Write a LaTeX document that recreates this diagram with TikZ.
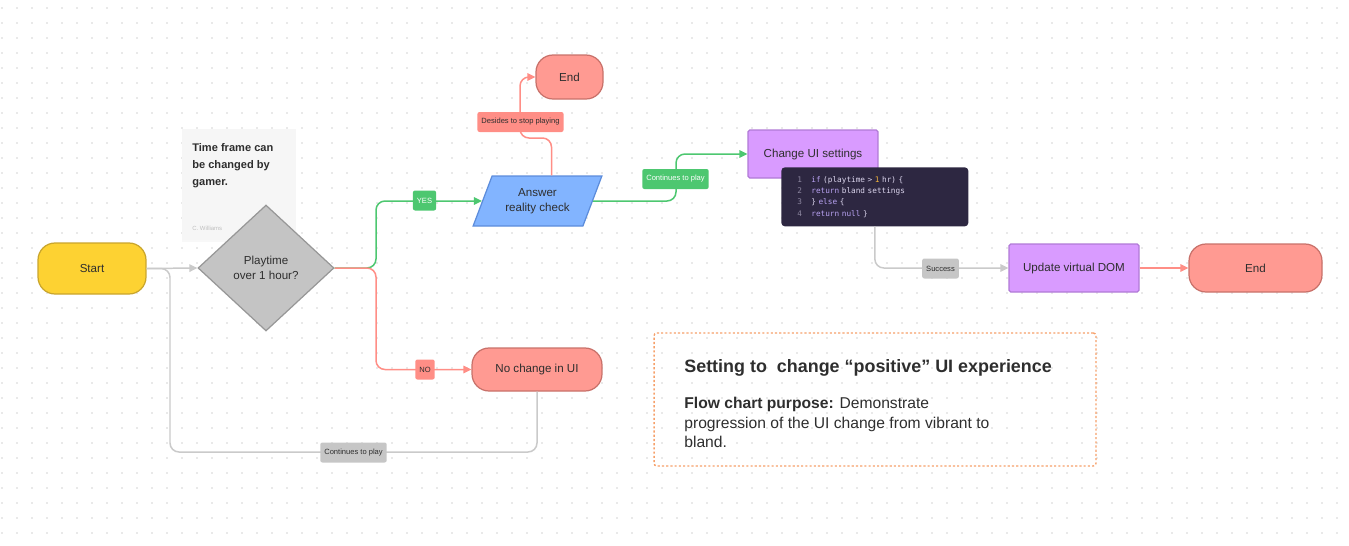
\documentclass[tikz,border=0pt]{standalone}
\usepackage{fontspec}
\setmainfont{Liberation Sans}
\newfontfamily\codefont{DejaVu Sans Mono}
\usetikzlibrary{arrows.meta,shapes.geometric,positioning,shadows}

\definecolor{ink}{HTML}{2E2E2E}
\definecolor{dotgrey}{HTML}{D2D2D2}
\definecolor{startfill}{HTML}{FDD232}
\definecolor{startdraw}{HTML}{C9A52C}
\definecolor{redfill}{HTML}{FF9A92}
\definecolor{reddraw}{HTML}{C8716A}
\definecolor{redline}{HTML}{FF8E86}
\definecolor{greenline}{HTML}{4DC770}
\definecolor{greyline}{HTML}{CACACA}
\definecolor{taggrey}{HTML}{C6C6C6}
\definecolor{purplefill}{HTML}{D99BFF}
\definecolor{purpledraw}{HTML}{B07AD6}
\definecolor{bluefill}{HTML}{82B4FF}
\definecolor{bluedraw}{HTML}{5C8CDB}
\definecolor{diafill}{HTML}{C4C4C4}
\definecolor{diadraw}{HTML}{979797}
\definecolor{codebg}{HTML}{2D2741}
\definecolor{codetxt}{HTML}{DCD6EE}
\definecolor{codekw}{HTML}{B8A2F2}
\definecolor{codenum}{HTML}{8D87A0}
\definecolor{codeone}{HTML}{F3B43B}
\definecolor{stickyfill}{HTML}{F6F6F6}
\definecolor{noteorange}{HTML}{F6A06A}

\begin{document}
\begin{tikzpicture}[x=0.02cm,y=-0.02cm,
  every node/.style={text=ink},
  txt/.style={font=\fontsize{6.6}{8.5}\selectfont, align=center},
  flowline/.style={line width=0.85pt, rounded corners=0.18cm},
  tip/.style={-{Triangle[length=0.16cm,width=0.15cm]}},
  terminal/.style={txt, rounded corners=0.34cm, line width=0.7pt},
  process/.style={txt, fill=purplefill, draw=purpledraw, line width=0.7pt, minimum width=2.6cm, minimum height=0.96cm, rounded corners=1pt},
  tag/.style={font=\fontsize{4.3}{5}\selectfont, rounded corners=1.2pt, inner xsep=2.3pt, inner ysep=0pt, minimum height=0.4cm},
  codebox/.style={fill=codebg, rounded corners=2pt, minimum width=3.74cm, minimum height=1.18cm, text width=3.1cm, inner xsep=0.32cm, align=left, font=\codefont\fontsize{4.4}{6.4}\selectfont, text=codetxt},
]
\useasboundingbox (0,0) rectangle (1349,545);
\foreach \gx in {2,17,...,1349}
  \foreach \gy in {8,23,...,545}
    \fill[dotgrey] (\gx,\gy) circle[radius=0.45pt];

\node[fill=stickyfill, minimum width=2.28cm, minimum height=2.22cm, drop shadow={opacity=0.06, shadow xshift=0pt, shadow yshift=-1pt}] (timenote) at (239,184.5) {};
\node[anchor=north west, inner sep=0, align=left, font=\bfseries\fontsize{6.3}{9.6}\selectfont] (timetext) at (192,143) {Time frame can\\be changed by\\gamer.};
\node[anchor=west, inner sep=0, font=\fontsize{3.4}{4}\selectfont, text=black!25] (timeauthor) at (192,228) {C. Williams};

\node[terminal, fill=startfill, draw=startdraw, minimum width=2.16cm, minimum height=1.02cm] (start) at (92,268.5) {Start};
\node[txt, diamond, aspect=1.08, fill=diafill, draw=diadraw, line width=0.7pt, minimum width=2.72cm, minimum height=2.52cm, inner sep=0pt] (playtime) at (266,268) {Playtime\\over 1 hour?};
\node[txt, trapezium, trapezium left angle=62, trapezium right angle=118, trapezium stretches=true, fill=bluefill, draw=bluedraw, line width=0.7pt, minimum width=2.58cm, minimum height=1.0cm, inner sep=0pt] (reality) at (537.5,201) {Answer\\reality check};
\node[terminal, fill=redfill, draw=reddraw, minimum width=1.34cm, minimum height=0.88cm] (stopend) at (569.5,77) {End};
\node[terminal, fill=redfill, draw=reddraw, minimum width=2.6cm, minimum height=0.86cm] (nochange) at (537,369.5) {No change in UI};
\node[process] (changeui) at (813,154) {Change UI settings};
\node[codebox, anchor=north west] (codesnip) at (781,167) {%
\makebox[0.28cm][l]{\color{codenum}1}\textcolor{codekw}{if} (playtime > \textcolor{codeone}{1} hr) \{\\
\makebox[0.28cm][l]{\color{codenum}2}\textcolor{codekw}{return} bland settings\\
\makebox[0.28cm][l]{\color{codenum}3}\} \textcolor{codekw}{else} \{\\
\makebox[0.28cm][l]{\color{codenum}4}\textcolor{codekw}{return null} \}};
\node[process] (update) at (1074,268) {Update virtual DOM};
\node[terminal, fill=redfill, draw=reddraw, minimum width=2.66cm, minimum height=0.96cm] (finalend) at (1255.5,268) {End};

\draw[flowline, greyline, tip] (start.east) -- (playtime.west);
\draw[flowline, greyline] (nochange.south) |- (170,452) |- (start.east);
\draw[flowline, greenline, tip] (playtime.east) -- (376,268) |- (reality.west);
\draw[flowline, redline, tip] (playtime.east) -- (376,268) |- (nochange.west);
\draw[flowline, redline, tip] ([xshift=0.28cm]reality.north) |- (520,138) |- (stopend.west);
\draw[flowline, greenline, tip] (reality.east) -- (676,201) |- (changeui.west);
\draw[flowline, greyline, tip] (codesnip.south) |- (update.west);
\draw[flowline, redline, tip] (update.east) -- (finalend.west);

\node[tag, fill=greenline, text=white] (yestag) at (424.5,200.5) {YES};
\node[tag, fill=redline] (notag) at (425,369.5) {NO};
\node[tag, fill=redline] (stoptag) at (520.5,122) {Desides to stop playing};
\node[tag, fill=greenline, text=white] (playtag) at (675.5,179) {Continues to play};
\node[tag, fill=taggrey] (successtag) at (940.5,268.5) {Success};
\node[tag, fill=taggrey] (looptag) at (353.5,452.5) {Continues to play};

\node[draw=noteorange, line width=0.8pt, dash pattern=on 1.2pt off 1.2pt, rounded corners=1.5pt, minimum width=8.84cm, minimum height=2.66cm] (purpose) at (875,399.5) {};
\node[anchor=west, inner sep=0, font=\bfseries\fontsize{10.2}{12}\selectfont] (purposetitle) at (684,368) {Setting to\ \ change “positive” UI experience};
\node[anchor=north west, inner sep=0, align=left, font=\fontsize{8.9}{11}\selectfont] (purposetext) at (684,397) {\textbf{Flow chart purpose:} Demonstrate\\progression of the UI change from vibrant to\\bland.};
\end{tikzpicture}
\end{document}
